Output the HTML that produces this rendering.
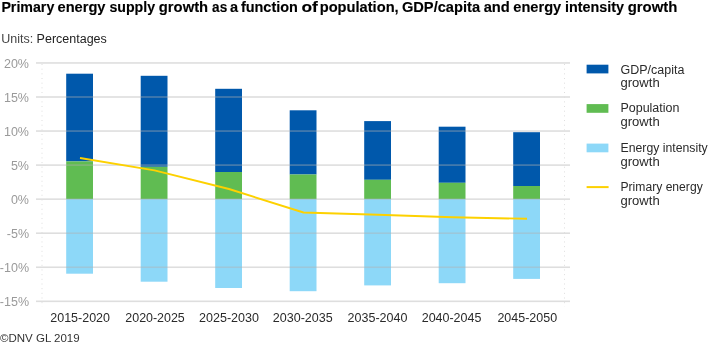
<!DOCTYPE html>
<html><head><meta charset="utf-8"><style>
html,body{margin:0;padding:0;background:#fff;width:708px;height:345px;overflow:hidden}
svg{display:block;will-change:transform}
text{font-family:"Liberation Sans",sans-serif}
.tt{font-size:14px;font-weight:700;fill:#000;stroke:#000;stroke-width:0.12px}
.un{font-size:12.5px;fill:#222}
.yl{font-size:12.5px;fill:#9a9a9a}
.xl{font-size:12.6px;fill:#2a2a2a}
.lg{font-size:12.3px;fill:#2a2a2a}
.cp{font-size:11.5px;fill:#333}
</style></head><body>
<svg width="708" height="345" viewBox="0 0 708 345">
<rect x="0" y="0" width="708" height="345" fill="#fff"/>
<rect x="66.20" y="73.70" width="26.8" height="87.70" fill="#0058AB"/>
<rect x="66.20" y="161.40" width="26.8" height="37.60" fill="#60BC52"/>
<rect x="66.20" y="199.00" width="26.8" height="74.70" fill="#8DD8F8"/>
<rect x="140.70" y="75.80" width="26.8" height="91.00" fill="#0058AB"/>
<rect x="140.70" y="166.80" width="26.8" height="32.20" fill="#60BC52"/>
<rect x="140.70" y="199.00" width="26.8" height="82.70" fill="#8DD8F8"/>
<rect x="215.20" y="88.80" width="26.8" height="83.20" fill="#0058AB"/>
<rect x="215.20" y="172.00" width="26.8" height="27.00" fill="#60BC52"/>
<rect x="215.20" y="199.00" width="26.8" height="89.00" fill="#8DD8F8"/>
<rect x="289.70" y="110.30" width="26.8" height="64.20" fill="#0058AB"/>
<rect x="289.70" y="174.50" width="26.8" height="24.50" fill="#60BC52"/>
<rect x="289.70" y="199.00" width="26.8" height="92.20" fill="#8DD8F8"/>
<rect x="364.20" y="121.10" width="26.8" height="58.70" fill="#0058AB"/>
<rect x="364.20" y="179.80" width="26.8" height="19.20" fill="#60BC52"/>
<rect x="364.20" y="199.00" width="26.8" height="86.40" fill="#8DD8F8"/>
<rect x="438.70" y="126.70" width="26.8" height="56.10" fill="#0058AB"/>
<rect x="438.70" y="182.80" width="26.8" height="16.20" fill="#60BC52"/>
<rect x="438.70" y="199.00" width="26.8" height="84.20" fill="#8DD8F8"/>
<rect x="513.20" y="132.20" width="26.8" height="53.80" fill="#0058AB"/>
<rect x="513.20" y="186.00" width="26.8" height="13.00" fill="#60BC52"/>
<rect x="513.20" y="199.00" width="26.8" height="79.90" fill="#8DD8F8"/>
<rect x="36" y="62.15" width="534" height="1.6" fill="#b0b0b0" fill-opacity="0.42"/>
<rect x="36" y="96.20" width="534" height="1.6" fill="#b0b0b0" fill-opacity="0.42"/>
<rect x="36" y="130.25" width="534" height="1.6" fill="#b0b0b0" fill-opacity="0.42"/>
<rect x="36" y="164.30" width="534" height="1.6" fill="#b0b0b0" fill-opacity="0.42"/>
<rect x="36" y="198.35" width="534" height="1.6" fill="#b0b0b0" fill-opacity="0.42"/>
<rect x="36" y="232.40" width="534" height="1.6" fill="#b0b0b0" fill-opacity="0.42"/>
<rect x="36" y="266.45" width="534" height="1.6" fill="#b0b0b0" fill-opacity="0.42"/>
<rect x="36" y="300.50" width="534" height="1.6" fill="#b0b0b0" fill-opacity="0.42"/>
<line x1="42" y1="64" x2="42" y2="307" stroke="#dedede" stroke-width="1" stroke-dasharray="1 3.67"/>
<line x1="564.5" y1="64" x2="564.5" y2="307" stroke="#dedede" stroke-width="1" stroke-dasharray="1 3.67"/>
<polyline points="80.00,158.00 154.50,170.40 229.00,189.00 303.50,212.50 378.00,214.80 452.50,217.20 527.00,218.80" fill="none" stroke="#FDD100" stroke-width="1.9" stroke-linejoin="round"/>
<text x="29" y="67.50" text-anchor="end" class="yl">20%</text>
<text x="29" y="101.55" text-anchor="end" class="yl">15%</text>
<text x="29" y="135.60" text-anchor="end" class="yl">10%</text>
<text x="29" y="169.65" text-anchor="end" class="yl">5%</text>
<text x="29" y="203.70" text-anchor="end" class="yl">0%</text>
<text x="29" y="237.75" text-anchor="end" class="yl">-5%</text>
<text x="29" y="271.80" text-anchor="end" class="yl">-10%</text>
<text x="29" y="305.85" text-anchor="end" class="yl">-15%</text>
<text x="50.30" y="322.4" class="xl" textLength="59.70" lengthAdjust="spacingAndGlyphs">2015-2020</text>
<text x="125.30" y="322.4" class="xl" textLength="59.50" lengthAdjust="spacingAndGlyphs">2020-2025</text>
<text x="199.10" y="322.4" class="xl" textLength="59.90" lengthAdjust="spacingAndGlyphs">2025-2030</text>
<text x="272.80" y="322.4" class="xl" textLength="59.90" lengthAdjust="spacingAndGlyphs">2030-2035</text>
<text x="347.60" y="322.4" class="xl" textLength="59.90" lengthAdjust="spacingAndGlyphs">2035-2040</text>
<text x="421.70" y="322.4" class="xl" textLength="59.70" lengthAdjust="spacingAndGlyphs">2040-2045</text>
<text x="497.40" y="322.4" class="xl" textLength="59.70" lengthAdjust="spacingAndGlyphs">2045-2050</text>
<rect x="586.6" y="64.70" width="21.8" height="8.7" fill="#0058AB"/>
<text x="620.5" y="73.80" class="lg" textLength="63.90" lengthAdjust="spacingAndGlyphs">GDP/capita</text>
<text x="620.5" y="87.40" class="lg" textLength="39.2" lengthAdjust="spacingAndGlyphs">growth</text>
<rect x="586.6" y="104.10" width="21.8" height="8.7" fill="#60BC52"/>
<text x="620.5" y="112.30" class="lg" textLength="58.90" lengthAdjust="spacingAndGlyphs">Population</text>
<text x="620.5" y="126.00" class="lg" textLength="39.2" lengthAdjust="spacingAndGlyphs">growth</text>
<rect x="586.6" y="143.60" width="21.8" height="8.7" fill="#8DD8F8"/>
<text x="620.5" y="152.20" class="lg" textLength="87.20" lengthAdjust="spacingAndGlyphs">Energy intensity</text>
<text x="620.5" y="165.80" class="lg" textLength="39.2" lengthAdjust="spacingAndGlyphs">growth</text>
<rect x="586.6" y="186.10" width="22" height="2" fill="#FDD100"/>
<text x="620.5" y="191.10" class="lg" textLength="82.20" lengthAdjust="spacingAndGlyphs">Primary energy</text>
<text x="620.5" y="204.90" class="lg" textLength="39.2" lengthAdjust="spacingAndGlyphs">growth</text>
<text x="1.40" y="12.1" class="tt" textLength="52.90" lengthAdjust="spacingAndGlyphs">Primary</text>
<text x="57.50" y="12.1" class="tt" textLength="48.00" lengthAdjust="spacingAndGlyphs">energy</text>
<text x="109.40" y="12.1" class="tt" textLength="45.70" lengthAdjust="spacingAndGlyphs">supply</text>
<text x="158.80" y="12.1" class="tt" textLength="49.30" lengthAdjust="spacingAndGlyphs">growth</text>
<text x="212.10" y="12.1" class="tt" textLength="15.10" lengthAdjust="spacingAndGlyphs">as</text>
<text x="229.90" y="12.1" class="tt" textLength="8.10" lengthAdjust="spacingAndGlyphs">a</text>
<text x="240.90" y="12.1" class="tt" textLength="57.00" lengthAdjust="spacingAndGlyphs">function</text>
<text x="301.40" y="12.1" class="tt" textLength="16.40" lengthAdjust="spacingAndGlyphs">of</text>
<text x="319.70" y="12.1" class="tt" textLength="79.00" lengthAdjust="spacingAndGlyphs">population,</text>
<text x="401.90" y="12.1" class="tt" textLength="78.20" lengthAdjust="spacingAndGlyphs">GDP/capita</text>
<text x="483.70" y="12.1" class="tt" textLength="26.10" lengthAdjust="spacingAndGlyphs">and</text>
<text x="513.30" y="12.1" class="tt" textLength="47.90" lengthAdjust="spacingAndGlyphs">energy</text>
<text x="565.00" y="12.1" class="tt" textLength="59.00" lengthAdjust="spacingAndGlyphs">intensity</text>
<text x="627.70" y="12.1" class="tt" textLength="49.70" lengthAdjust="spacingAndGlyphs">growth</text>
<text x="1.2" y="43.1" class="un"><tspan fill="#444">Units:</tspan> Percentages</text>
<text x="0" y="342" class="cp">©DNV GL 2019</text>
</svg>
</body></html>
